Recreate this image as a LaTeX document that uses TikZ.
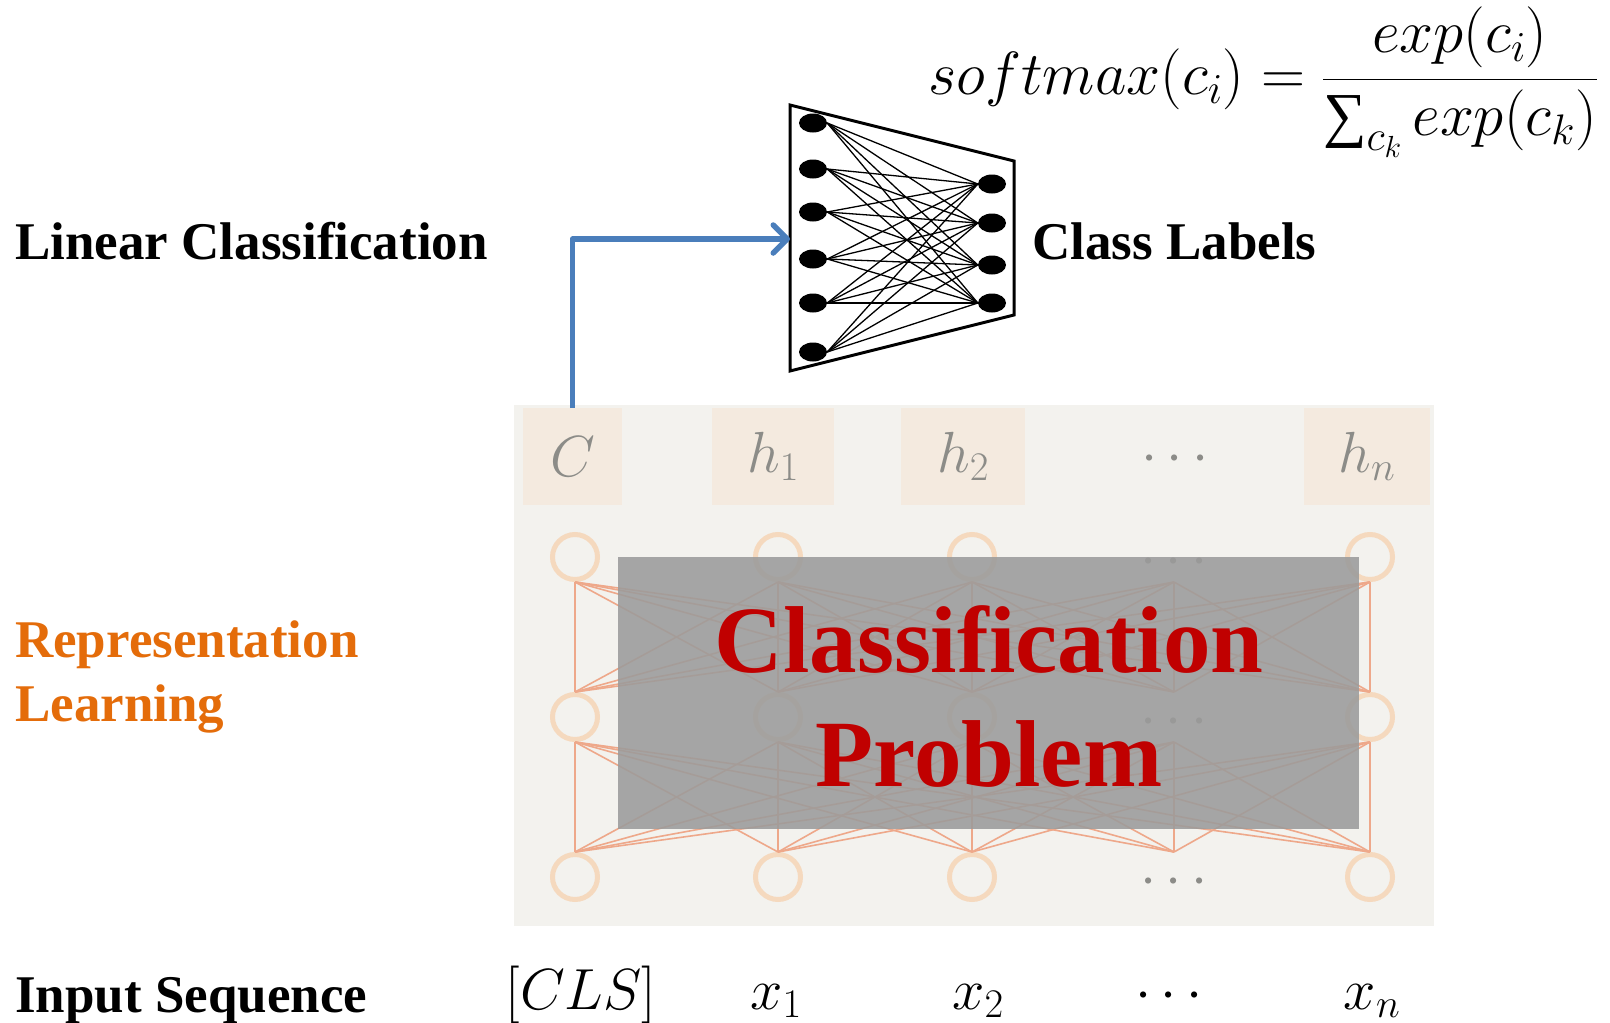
\documentclass[tikz,border=0pt]{standalone}
\usepackage{fix-cm}
\usepackage{fontspec}
\setmainfont{Liberation Serif}
\usetikzlibrary{shapes.geometric,arrows.meta}

\definecolor{panelbg}{RGB}{243,242,238}
\definecolor{hboxbg}{RGB}{244,234,223}
\definecolor{ringc}{RGB}{245,217,190}
\definecolor{wirec}{RGB}{238,168,138}
\definecolor{labelgray}{RGB}{140,140,136}
\definecolor{boxgray}{RGB}{155,155,155}
\definecolor{probred}{RGB}{192,0,0}
\definecolor{reporange}{RGB}{228,108,10}
\definecolor{arrowblue}{RGB}{74,126,187}

\newcommand\headfont{\fontsize{53}{60}\selectfont\bfseries}
\newcommand\bigredfont{\fontsize{95}{110}\selectfont\bfseries}
\newcommand\symfont{\fontsize{58}{64}\selectfont}
\newcommand\formulafont{\fontsize{61}{66}\selectfont}
% summation sign taken from the text font so that it scales with it
\newcommand\bigsumsign{\mathop{\mbox{∑}}\nolimits}

\begin{document}
\begin{tikzpicture}[x=1pt,y=-1pt,
  hbox/.style={fill=hboxbg, inner sep=0, outer sep=0, text=labelgray,
    font=\symfont, minimum height=97},
  ring/.style={circle, draw=ringc, line width=5, minimum size=45,
    inner sep=0, outer sep=2.5},
  gap/.style={circle, minimum size=45, inner sep=0, outer sep=2.5},
  dotsl/.style={text=labelgray, font=\symfont, inner sep=0},
  wire/.style={draw=wirec, line width=1.6},
  unit/.style={ellipse, fill=black, minimum width=28, minimum height=19,
    inner sep=0},
  link/.style={line width=1.3},
  heading/.style={font=\headfont, anchor=base west, inner sep=0},
  token/.style={font=\symfont, anchor=base, inner sep=0},
  bigred/.style={font=\bigredfont, text=probred, anchor=base, inner sep=0}]
\useasboundingbox (0,0) rectangle (1610,1023);

% encoder panel
\fill[panelbg] (514,405) rectangle (1434,926);

% hidden-state boxes
\node[hbox, minimum width=99]  (Cbox)  at (572.5,456.5) {$C$};
\node[hbox, minimum width=122] (h1box) at (773,456.5)   {$h_1$};
\node[hbox, minimum width=124] (h2box) at (963,456.5)   {$h_2$};
\node[dotsl] (hdots) at (1175,460) {$\cdots$};
\node[hbox, minimum width=126] (hnbox) at (1367,456.5)  {$h_n$};

% encoder units
\foreach \c/\x in {1/575,2/778,3/972,5/1370} {
  \foreach \r/\y in {1/557,2/717,3/877} {
    \node[ring] (n-\c-\r) at (\x,\y) {};
  }
}
\foreach \r/\y in {1/557,2/717,3/877} {
  \node[gap] (n-4-\r) at (1174,\y) {};
  \node[dotsl] (d-\r) at (1174,\y+6) {$\cdots$};
}

% fully connected layers
\foreach \a in {1,...,5} {
  \foreach \b in {1,...,5} {
    \draw[wire] (n-\a-3.north) -- (n-\b-2.south);
    \draw[wire] (n-\a-2.north) -- (n-\b-1.south);
  }
}

% overlay
\node[fill=boxgray, fill opacity=0.88, inner sep=0, minimum width=741,
  minimum height=272] (overlay) at (988.5,693) {};
\node[bigred] (cp1) at (989,672) {Classification};
\node[bigred] (cp2) at (989,786) {Problem};

% input tokens
\node[token] (t1) at (581,1009) {$[CLS]$};
\node[token] (t2) at (776,1009) {$x_1$};
\node[token] (t3) at (978,1009) {$x_2$};
\node[token] (t4) at (1169,1009) {$\cdots$};
\node[token] (t5) at (1372,1009) {$x_n$};

% row headings
\node[heading] (lc) at (15,259) {Linear Classification};
\node[heading, text=reporange] (rl1) at (15,657) {Representation};
\node[heading, text=reporange] (rl2) at (15,721) {Learning};
\node[heading] (is) at (15,1012) {Input Sequence};
\node[heading] (cl) at (1032,259) {Class Labels};

% linear classifier
\draw[line width=3, line join=miter] (790,105) -- (1014,161) -- (1014,315)
  -- (790,371) -- cycle;
\coordinate (trapIn) at (790,239);
\foreach \i/\y in {1/123,2/169,3/212,4/259,5/303,6/352}
  \node[unit] (l\i) at (813,\y) {};
\foreach \j/\y in {1/184,2/223,3/265,4/303}
  \node[unit] (r\j) at (992,\y) {};
\foreach \i in {1,...,6}
  \foreach \j in {1,...,4}
    \draw[link] (l\i.east) -- (r\j.west);

% C feeds the classifier
\draw[arrowblue, line width=5.5, line join=round,
  -{Straight Barb[length=14, width=28, round]}] (Cbox.north) |- (trapIn);

% softmax
\node[font=\formulafont, anchor=base east, inner sep=0] (sm) at (1598,94)
  {$\displaystyle softmax(c_i)=\frac{exp(c_i)}{\bigsumsign_{c_k}exp(c_k)}$};
\end{tikzpicture}
\end{document}
